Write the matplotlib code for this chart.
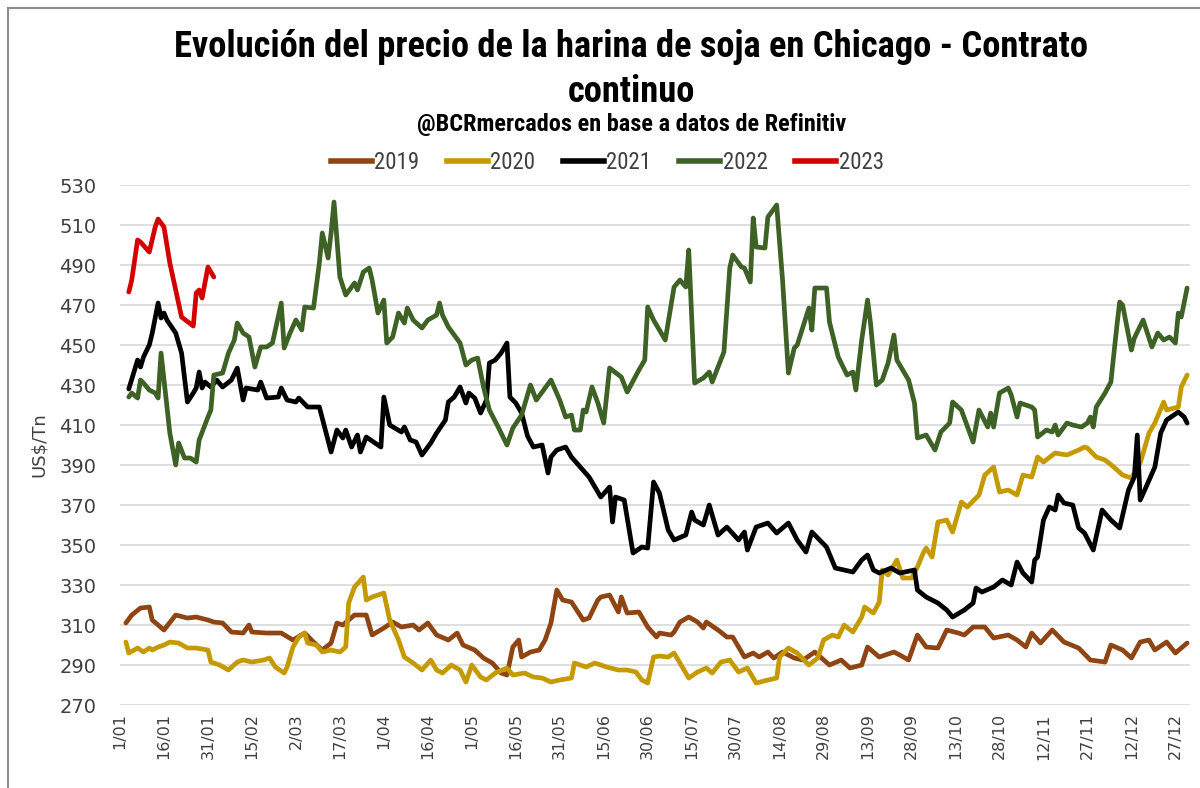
import matplotlib
matplotlib.use("Agg")
import matplotlib.pyplot as plt
from matplotlib.lines import Line2D

# dia del año (0 = 1/01) y precio en US$/Tn
d2019 = [2, 4, 7, 10, 11, 15, 19, 23, 26, 30, 32, 35, 38, 42, 44, 45, 50, 55, 59, 63, 66, 69, 72, 74, 76,
         80, 84, 86, 90, 93, 96, 100, 102, 105, 108, 112, 115, 117, 121, 124, 127, 130, 132, 134, 136, 137,
         140, 143, 145, 147, 149, 151, 154, 158, 160, 163, 164, 167, 170, 171, 173, 177, 180, 183, 184, 188,
         189, 191, 194, 197, 199, 200, 204, 207, 209, 213, 216, 218, 221, 223, 226, 230, 233, 237, 242, 246,
         249, 253, 255, 259, 264, 266, 269, 272, 275, 279, 282, 286, 288, 291, 295, 298, 303, 306, 309, 311,
         314, 318, 322, 327, 331, 336, 338, 342, 345, 348, 351, 353, 357, 360, 364]
v2019 = [311, 315, 318.5, 319, 312.5, 307.5, 315, 313.5, 314, 312.5, 311.5, 311, 306.5, 306, 310, 306.5,
         306, 306, 302.5, 306, 301.5, 297.5, 301, 311, 310, 315, 315, 305, 308.5, 311.5, 309, 310, 307.5,
         311, 305, 302.5, 306, 300, 297.5, 293.5, 291, 286, 285, 299, 302.5, 294, 296.5, 297.5, 302.5, 311,
         327.5, 322.5, 321.5, 312.5, 313.5, 322.5, 324, 325, 316.5, 324, 316, 316.5, 309, 304, 306, 305,
         306.5, 311.5, 314, 311.5, 308.5, 311.5, 307.5, 304, 304, 294, 296, 294, 296.5, 293.5, 296.5, 293.5,
         292.5, 296.5, 290, 292.5, 288.5, 290, 299, 294, 296.5, 295, 292.5, 305, 299, 298.5, 307.5, 306,
         305, 309, 309, 303.5, 305, 302.5, 299, 306, 301, 307.5, 301.5, 298.5, 292.5, 291.5, 300, 297.5,
         293.5, 301.5, 302.5, 297.5, 301.5, 296, 301]

d2020 = [2, 3, 6, 8, 10, 11, 13, 15, 17, 20, 23, 26, 30, 31, 34, 37, 40, 42, 45, 49, 51, 53, 56, 57, 59,
         61, 63, 64, 67, 69, 72, 75, 77, 78, 80, 83, 84, 86, 90, 92, 95, 97, 100, 103, 106, 108, 110, 113,
         116, 118, 120, 123, 125, 128, 132, 134, 138, 141, 144, 147, 150, 154, 155, 159, 162, 166, 170, 173,
         176, 178, 180, 182, 184, 187, 189, 194, 197, 200, 202, 205, 208, 211, 214, 217, 221, 224, 225, 228,
         231, 235, 238, 240, 243, 245, 247, 250, 253, 254, 257, 259, 260, 262, 265, 267, 270, 272, 274, 275,
         277, 279, 282, 284, 287, 289, 293, 295, 298, 300, 303, 306, 308, 311, 313, 315, 319, 323, 327, 329,
         330, 333, 336, 339, 342, 345, 348, 351, 353, 356, 357, 361, 362, 364]
v2020 = [301.5, 296, 298.5, 296.5, 298.5, 297.5, 299, 300, 301.5, 301, 298.5, 298.5, 297.5, 291.5, 290,
         287.5, 291.5, 292.5, 291.5, 292.5, 293.5, 289, 286, 289, 299, 304, 306, 301, 300, 296.5, 297.5,
         296.5, 299, 321, 329, 334, 322.5, 324, 326, 312.5, 302.5, 294, 291, 287.5, 292.5, 287.5, 286, 290,
         287.5, 281.5, 290, 284, 282.5, 286, 288.5, 285, 286, 284, 283.5, 281.5, 282.5, 283.5, 291, 289, 291,
         289, 287.5, 287.5, 286.5, 282.5, 281, 294, 294.5, 294, 296, 283.5, 286.5, 288.5, 286, 291.5, 292.5,
         286.5, 288.5, 281, 282.5, 283.5, 294, 298.5, 296, 290, 293.5, 302.5, 305, 304, 310, 306.5, 314, 319,
         316, 321.5, 337.5, 335, 342.5, 333.5, 333.5, 339, 346, 348.5, 344, 361.5, 362.5, 356.5, 371.5, 369,
         375, 385, 389, 376.5, 377.5, 375, 385, 384, 394, 391.5, 396, 395, 397.5, 399, 398.5, 394, 392.5, 389,
         385, 383.5, 391, 406, 411, 421.5, 417.5, 419, 429, 435]

d2021 = [3, 6, 7, 8, 10, 11, 13, 14, 15, 16, 19, 21, 23, 25, 26, 27, 28, 29, 31, 33, 35, 38, 40, 42, 43, 47,
         48, 50, 54, 55, 57, 60, 61, 64, 68, 72, 74, 76, 77, 79, 81, 82, 84, 88, 89, 90, 92, 96, 97, 99, 101,
         103, 106, 108, 111, 112, 114, 116, 118, 119, 121, 123, 125, 126, 128, 130, 132, 133, 135, 137, 139,
         141, 144, 146, 147, 149, 152, 154, 157, 160, 164, 167, 168, 169, 172, 175, 178, 180, 182, 184, 187,
         189, 193, 195, 196, 199, 201, 204, 207, 211, 213, 214, 217, 221, 224, 228, 231, 234, 236, 241, 244,
         250, 253, 255, 257, 259, 263, 266, 271, 272, 275, 279, 282, 284, 288, 291, 292, 294, 298, 301, 304,
         306, 308, 311, 312, 313, 315, 317, 319, 320, 322, 325, 327, 329, 332, 335, 338, 341, 344, 346, 347,
         348, 350, 353, 355, 357, 361, 363, 364]
v2021 = [428, 442.5, 439, 444, 450, 456, 471, 463.5, 466, 462.5, 456, 446, 421.5, 426, 428.5, 436.5, 428.5,
         431.5, 429, 432.5, 429, 432.5, 438.5, 422.5, 428.5, 427.5, 431.5, 423.5, 424, 428.5, 422.5, 421.5,
         423.5, 419, 419, 396.5, 407.5, 403.5, 407.5, 399, 405, 396.5, 404, 400, 399, 424, 410, 406.5, 409,
         402.5, 401.5, 395, 401, 406, 412.5, 421.5, 424, 429, 421, 426, 423.5, 416, 422.5, 441, 442.5, 446,
         451, 424, 421, 416, 404.5, 399, 400, 386, 394, 397.5, 399, 394, 389, 384, 374, 379, 361.5, 374,
         372.5, 346, 349, 348.5, 381.5, 376, 357.5, 352.5, 355, 366.5, 362.5, 360, 370, 355, 359, 352.5,
         356.5, 347.5, 359, 361, 356, 361, 352.5, 346.5, 356.5, 349, 338.5, 336.5, 342.5, 345, 337.5, 336,
         338.5, 336, 337.5, 327.5, 324, 321, 317.5, 314, 317.5, 321, 328.5, 326.5, 329, 332.5, 330, 341.5,
         336, 331.5, 342.5, 344, 362.5, 369, 367.5, 375, 371, 370, 358.5, 356, 347.5, 367.5, 362.5, 358.5,
         377.5, 384, 405, 372.5, 379, 389, 406, 412.5, 416.5, 414, 411]

d2022 = [3, 4, 6, 7, 8, 10, 12, 13, 14, 15, 17, 19, 20, 22, 24, 26, 27, 30, 31, 32, 35, 37, 39, 40, 42, 44,
         46, 48, 50, 52, 55, 56, 58, 60, 62, 63, 66, 68, 69, 71, 72, 73, 75, 77, 79, 80, 81, 83, 85, 86, 88,
         90, 91, 93, 95, 97, 98, 100, 103, 105, 108, 109, 110, 112, 114, 116, 118, 120, 122, 124, 126, 129,
         132, 134, 137, 140, 142, 144, 147, 150, 152, 154, 155, 157, 158, 159, 161, 163, 165, 167, 171, 173,
         177, 179, 180, 182, 186, 189, 191, 193, 194, 196, 199, 201, 202, 206, 208, 209, 212, 213, 215, 216,
         217, 220, 221, 224, 226, 228, 230, 231, 235, 236, 237, 241, 242, 245, 248, 250, 251, 253, 255, 256,
         258, 260, 262, 264, 265, 269, 271, 272, 275, 278, 280, 283, 284, 287, 291, 293, 296, 297, 298, 300,
         303, 304, 306, 307, 311, 312, 313, 316, 318, 319, 320, 323, 325, 328, 330, 331, 332, 333, 336, 338,
         340, 341, 342, 345, 346, 349, 352, 354, 356, 358, 360, 361, 362, 364]
v2022 = [424, 426, 423.5, 432.5, 431, 427.5, 426, 423.5, 446, 432.5, 406, 390, 401, 393.5, 393.5, 391.5,
         402.5, 414, 417.5, 435, 436, 446, 452.5, 461, 456, 454, 439, 449, 449, 451, 471, 448.5, 456, 462.5,
         457.5, 469, 468.5, 491, 506, 493.5, 506, 521.5, 484, 475, 479, 481, 477.5, 486.5, 488.5, 482.5, 466,
         472.5, 451, 454, 466, 461, 468.5, 462.5, 458.5, 462.5, 465, 471, 465, 459, 455, 451, 440, 442.5,
         443.5, 429, 417.5, 409, 400, 408.5, 415, 430, 422.5, 426.5, 432.5, 422.5, 414, 415, 407.5, 407.5,
         417.5, 416.5, 429, 421, 411, 438.5, 434, 426.5, 437.5, 442.5, 469, 462.5, 452.5, 479, 482.5, 479,
         497.5, 431, 433.5, 436.5, 431.5, 446.5, 488.5, 495, 489, 488.5, 481.5, 513.5, 499, 498.5, 514, 520,
         482.5, 436, 448.5, 450, 468.5, 457.5, 478.5, 478.5, 461.5, 444, 435, 436.5, 427.5, 452.5, 472.5,
         461, 430, 432.5, 441, 455, 442.5, 432.5, 421, 403.5, 405, 397.5, 406.5, 411, 421.5, 417.5, 401.5,
         417.5, 409, 416, 409, 426, 428.5, 425, 414, 421, 419, 417.5, 404, 407.5, 406.5, 410, 405, 411, 410,
         409, 411, 414, 409, 419, 426, 431.5, 459, 471.5, 470, 447.5, 453.5, 462.5, 449, 456, 452.5, 454,
         451, 466, 464, 478.5]

d2023 = [3, 4, 6, 7, 10, 12, 13, 15, 17, 19, 21, 25, 26, 27, 28, 30, 32]
v2023 = [476.5, 482.5, 502.5, 501.5, 496.5, 509, 513, 509, 491, 477.5, 464, 459.5, 476, 477.5, 473.5, 489, 484]

series = [("2019", d2019, v2019, "#8E4513"),
          ("2020", d2020, v2020, "#C49A00"),
          ("2021", d2021, v2021, "#000000"),
          ("2022", d2022, v2022, "#3E6126"),
          ("2023", d2023, v2023, "#D40000")]

tick_days = list(range(0, 361, 15))
tick_labels = ["1/01", "16/01", "31/01", "15/02", "2/03", "17/03", "1/04", "16/04", "1/05", "16/05",
               "31/05", "15/06", "30/06", "15/07", "30/07", "14/08", "29/08", "13/09", "28/09", "13/10",
               "28/10", "12/11", "27/11", "12/12", "27/12"]

narrow = ["Roboto Condensed", "Liberation Sans Narrow", "Roboto", "DejaVu Sans"]
txt = "#404040"

fig = plt.figure(figsize=(12, 7.88), dpi=100)
ax = fig.add_axes([0.1, 0.1053, 0.8917, 0.6599])

for name, d, v, c in series:
    ax.plot(d, v, color=c, lw=3.4, solid_joinstyle="round", solid_capstyle="round", zorder=3)

ax.set_xlim(0, 365)
ax.set_ylim(270, 530)
ax.set_yticks(range(270, 531, 20))
ax.set_xticks(tick_days)
ax.set_xticklabels(tick_labels, rotation=90, fontsize=11.5, color=txt, family="DejaVu Sans")
ax.tick_params(axis="y", length=0, pad=17, labelsize=14, labelcolor=txt)
ax.tick_params(axis="x", length=0, pad=6)
ax.yaxis.grid(True, color="#D9D9D9", lw=1.2, zorder=0)
for s in ax.spines.values():
    s.set_visible(False)
ax.set_ylabel("US$/Tn", fontsize=13, color=txt, labelpad=8)

fig.text(0.526, 0.940, "Evolución del precio de la harina de soja en Chicago - Contrato",
         ha="center", va="center", fontsize=26.3, fontweight="bold", family=narrow)
fig.text(0.526, 0.883, "continuo", ha="center", va="center", fontsize=26.3, fontweight="bold", family=narrow)
fig.text(0.526, 0.842, "@BCRmercados en base a datos de Refinitiv", ha="center", va="center",
         fontsize=17.5, fontweight="bold", family=narrow)

handles = [Line2D([], [], color=c, lw=4) for _, _, _, c in series]
fig.legend(handles, [s[0] for s in series], loc="center", bbox_to_anchor=(0.506, 0.794), ncol=5,
           frameon=False, handlelength=1.8, handletextpad=0.1, columnspacing=1.2,
           prop={"family": narrow, "size": 16.5}, labelcolor=txt)

# borde del area del grafico
fig.add_artist(Line2D([0.007, 0.007], [0, 0.99], transform=fig.transFigure, color="#8C8C8C", lw=1.5))
fig.add_artist(Line2D([0.007, 1], [0.99, 0.99], transform=fig.transFigure, color="#8C8C8C", lw=1.5))

fig.savefig("out.png", dpi=100)
